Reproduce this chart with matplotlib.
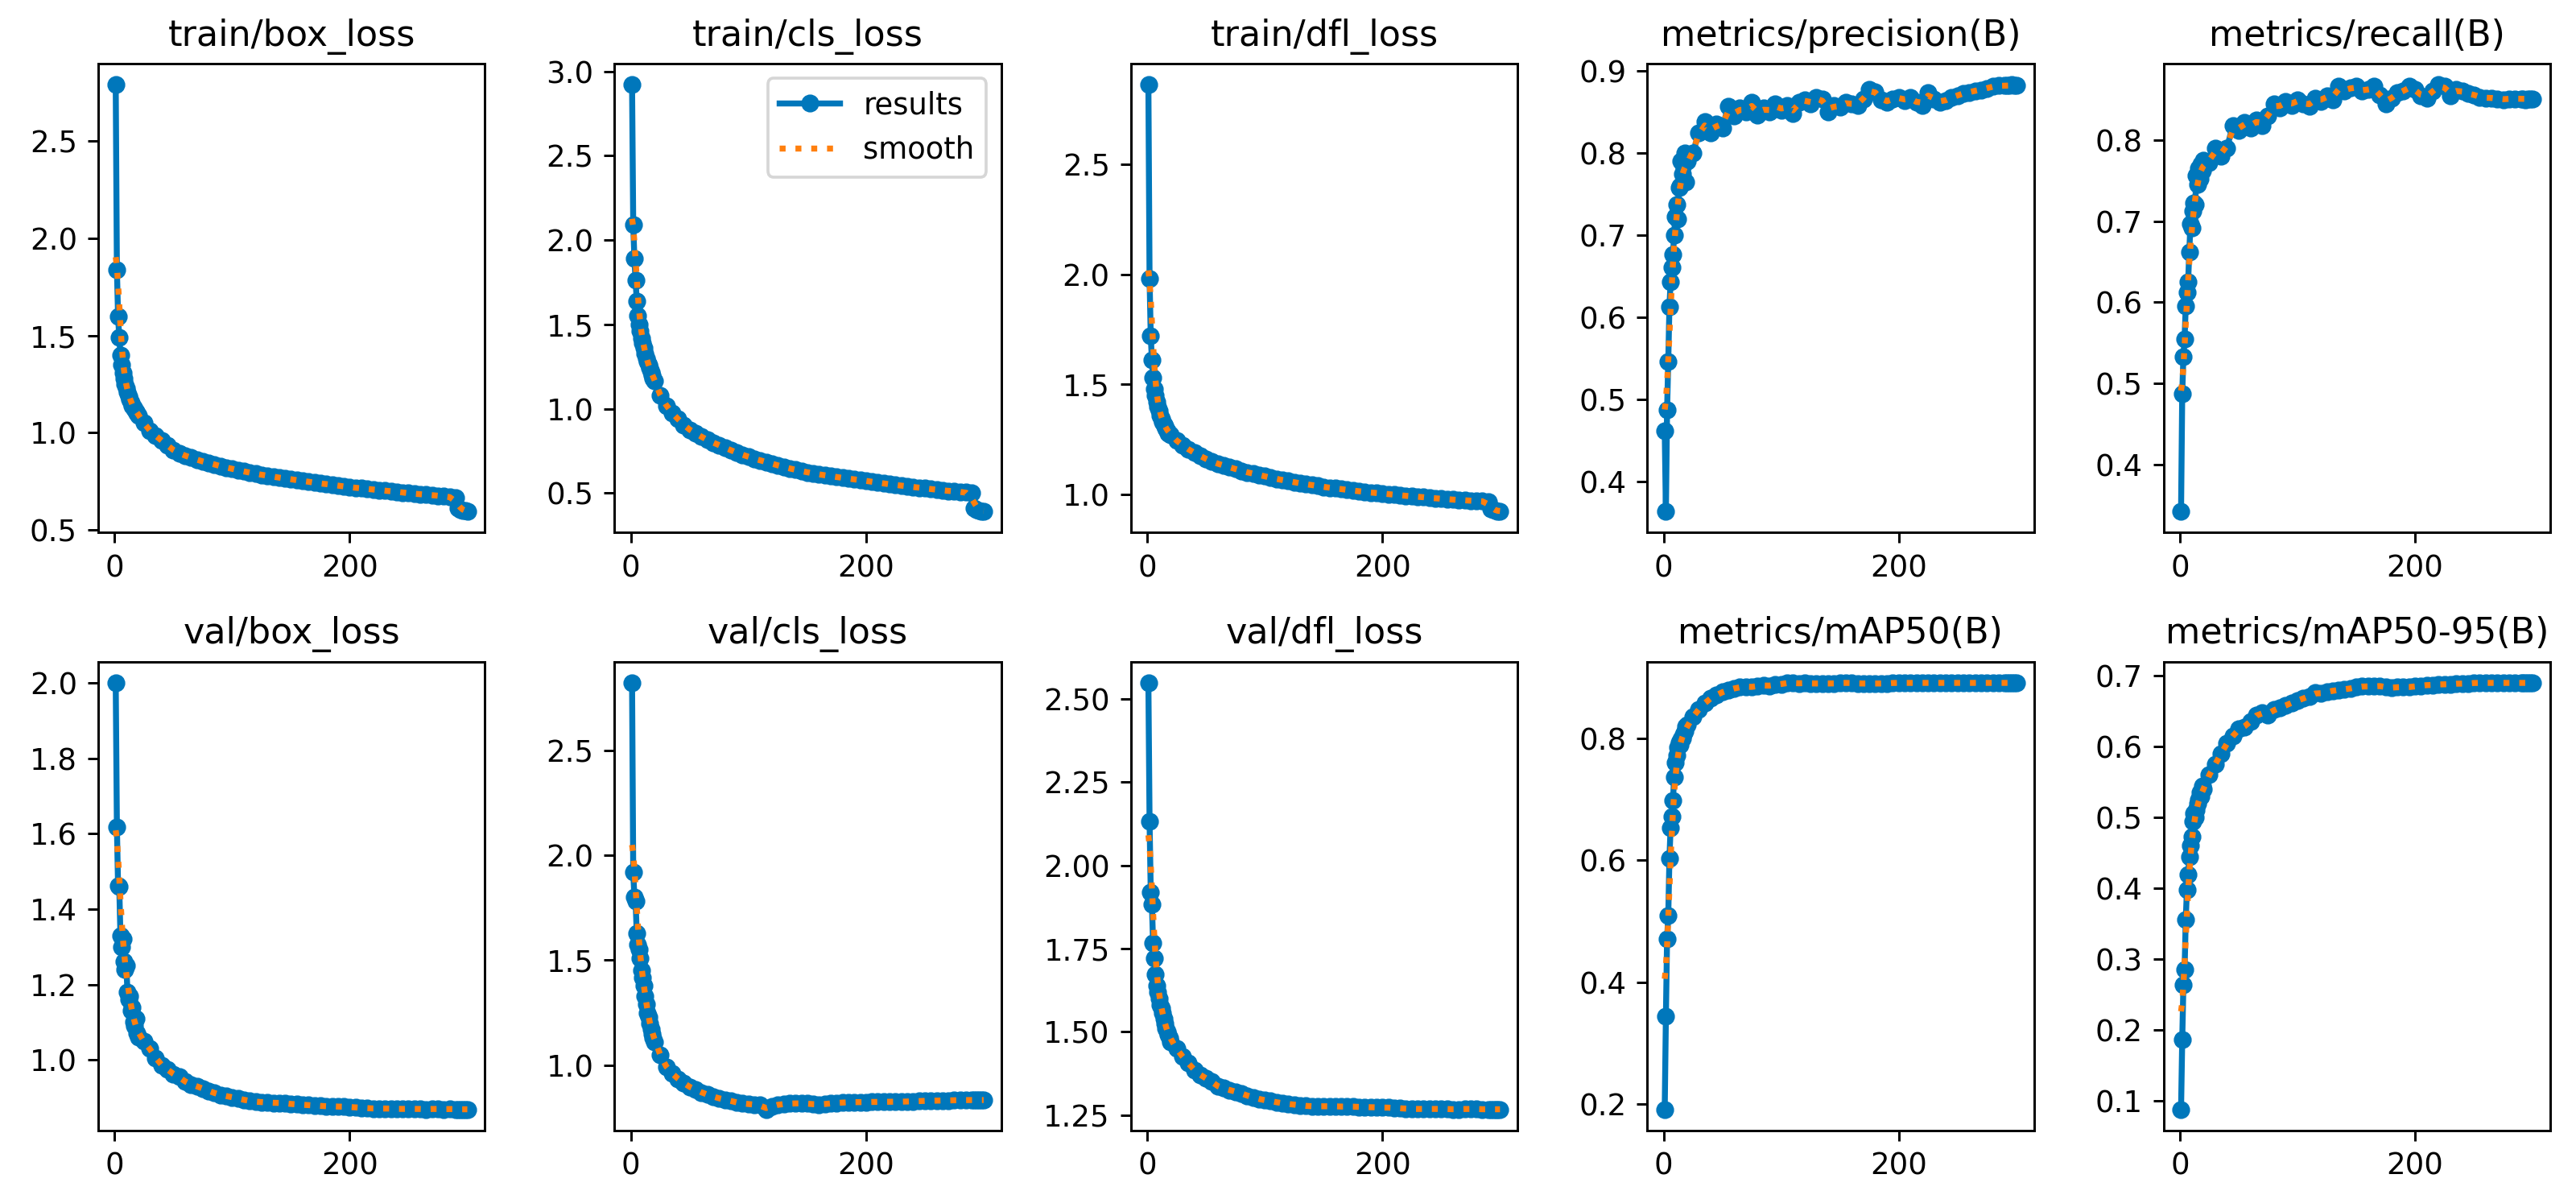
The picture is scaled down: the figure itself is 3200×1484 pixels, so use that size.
import numpy as np
import matplotlib
matplotlib.use("Agg")
import matplotlib.pyplot as plt

# Epochs sampled from the training log (1..20 each, then every 5, then last epochs)
EPOCHS = list(range(1, 21)) + list(range(25, 291, 5)) + [292, 294, 296, 298, 300]

TITLES = ["train/box_loss", "train/cls_loss", "train/dfl_loss",
          "metrics/precision(B)", "metrics/recall(B)",
          "val/box_loss", "val/cls_loss", "val/dfl_loss",
          "metrics/mAP50(B)", "metrics/mAP50-95(B)"]

train_box = [2.79, 1.84, 1.60, 1.49, 1.40, 1.35, 1.31, 1.28, 1.25, 1.23,
             1.21, 1.19, 1.17, 1.155, 1.14, 1.13, 1.12, 1.11, 1.10, 1.09,
             1.05, 1.01, 0.985, 0.96, 0.935, 0.91, 0.895, 0.882, 0.872, 0.862,
             0.852, 0.845, 0.837, 0.828, 0.821, 0.815, 0.807, 0.801, 0.795, 0.789,
             0.784, 0.779, 0.774, 0.769, 0.765, 0.761, 0.756, 0.752, 0.748, 0.743,
             0.739, 0.736, 0.732, 0.728, 0.724, 0.720, 0.717, 0.714, 0.711, 0.708,
             0.705, 0.702, 0.699, 0.696, 0.693, 0.689, 0.686, 0.684, 0.681, 0.679,
             0.676, 0.673, 0.670, 0.667,
             0.612, 0.605, 0.601, 0.598, 0.596]

train_cls = [2.92, 2.09, 1.89, 1.76, 1.64, 1.55, 1.50, 1.46, 1.42, 1.39,
             1.36, 1.33, 1.30, 1.28, 1.26, 1.24, 1.22, 1.20, 1.18, 1.165,
             1.08, 1.02, 0.975, 0.94, 0.905, 0.875, 0.855, 0.835, 0.815, 0.80,
             0.785, 0.77, 0.755, 0.74, 0.728, 0.716, 0.705, 0.695, 0.685, 0.675,
             0.665, 0.656, 0.647, 0.639, 0.631, 0.624, 0.618, 0.612, 0.606, 0.601,
             0.596, 0.591, 0.587, 0.582, 0.578, 0.573, 0.568, 0.563, 0.558, 0.553,
             0.549, 0.545, 0.541, 0.537, 0.533, 0.529, 0.525, 0.521, 0.517, 0.514,
             0.511, 0.508, 0.505, 0.502,
             0.41, 0.402, 0.398, 0.395, 0.393]

train_dfl = [2.86, 1.98, 1.72, 1.61, 1.53, 1.48, 1.45, 1.42, 1.40, 1.38,
             1.36, 1.345, 1.33, 1.32, 1.31, 1.30, 1.29, 1.28, 1.275, 1.27,
             1.245, 1.225, 1.205, 1.19, 1.175, 1.162, 1.15, 1.14, 1.132, 1.124,
             1.116, 1.108, 1.101, 1.095, 1.089, 1.083, 1.076, 1.071, 1.066, 1.061,
             1.056, 1.051, 1.047, 1.043, 1.039, 1.035, 1.031, 1.028, 1.025, 1.021,
             1.018, 1.015, 1.012, 1.009, 1.007, 1.005, 1.002, 0.999, 0.997, 0.994,
             0.992, 0.99, 0.988, 0.985, 0.983, 0.981, 0.979, 0.977, 0.975, 0.974,
             0.972, 0.971, 0.970, 0.968,
             0.935, 0.93, 0.927, 0.925, 0.924]

precision = [0.462, 0.364, 0.487, 0.546, 0.613, 0.643, 0.661, 0.677, 0.70, 0.723,
             0.737, 0.72, 0.758, 0.76, 0.79, 0.775, 0.785, 0.80, 0.765, 0.79,
             0.80, 0.825, 0.838, 0.825, 0.835, 0.83, 0.857, 0.845, 0.855, 0.85,
             0.862, 0.846, 0.855, 0.85, 0.86, 0.852, 0.858, 0.848, 0.862, 0.865,
             0.86, 0.868, 0.866, 0.85, 0.858, 0.856, 0.862, 0.86, 0.858, 0.866,
             0.878, 0.875, 0.865, 0.862, 0.866, 0.868, 0.864, 0.868, 0.862, 0.858,
             0.874, 0.866, 0.862, 0.864, 0.868, 0.87, 0.873, 0.874, 0.876, 0.877,
             0.879, 0.881, 0.882, 0.882,
             0.882, 0.882, 0.883, 0.882, 0.882]

recall = [0.342, 0.487, 0.533, 0.555, 0.595, 0.612, 0.625, 0.662, 0.697, 0.692,
          0.712, 0.722, 0.72, 0.756, 0.745, 0.765, 0.752, 0.77, 0.762, 0.775,
          0.772, 0.79, 0.78, 0.79, 0.818, 0.812, 0.822, 0.815, 0.825, 0.818,
          0.83, 0.845, 0.84, 0.848, 0.843, 0.85, 0.845, 0.842, 0.852, 0.848,
          0.855, 0.85, 0.866, 0.86, 0.864, 0.866, 0.86, 0.862, 0.866, 0.856,
          0.845, 0.852, 0.858, 0.86, 0.866, 0.862, 0.855, 0.852, 0.86, 0.868,
          0.866, 0.855, 0.862, 0.86, 0.857, 0.856, 0.853, 0.852, 0.852, 0.851,
          0.85, 0.851, 0.851, 0.851,
          0.851, 0.85, 0.851, 0.851, 0.851]

val_box = [2.00, 1.618, 1.461, 1.46, 1.33, 1.30, 1.32, 1.26, 1.24, 1.25,
           1.18, 1.16, 1.17, 1.13, 1.14, 1.10, 1.09, 1.11, 1.07, 1.06,
           1.05, 1.03, 1.005, 0.985, 0.975, 0.962, 0.955, 0.942, 0.935, 0.93,
           0.924, 0.918, 0.912, 0.907, 0.904, 0.901, 0.898, 0.894, 0.891, 0.889,
           0.888, 0.887, 0.886, 0.886, 0.885, 0.883, 0.882, 0.881, 0.88, 0.879,
           0.878, 0.877, 0.877, 0.876, 0.876, 0.875, 0.874, 0.873, 0.872, 0.871,
           0.871, 0.871, 0.871, 0.870, 0.870, 0.870, 0.870, 0.870, 0.869, 0.870,
           0.870, 0.869, 0.870, 0.869,
           0.869, 0.869, 0.869, 0.869, 0.869]

val_cls = [2.82, 1.918, 1.80, 1.78, 1.627, 1.573, 1.55, 1.51, 1.45, 1.418,
           1.38, 1.327, 1.29, 1.25, 1.23, 1.20, 1.17, 1.15, 1.13, 1.11,
           1.05, 0.99, 0.96, 0.935, 0.915, 0.895, 0.885, 0.87, 0.86, 0.85,
           0.842, 0.836, 0.83, 0.822, 0.818, 0.815, 0.812, 0.81, 0.79, 0.805,
           0.812, 0.815, 0.817, 0.818, 0.818, 0.817, 0.814, 0.813, 0.815, 0.818,
           0.82, 0.822, 0.823, 0.824, 0.824, 0.824, 0.825, 0.825, 0.825, 0.826,
           0.826, 0.826, 0.827, 0.828, 0.829, 0.83, 0.831, 0.831, 0.832, 0.832,
           0.833, 0.833, 0.834, 0.834,
           0.834, 0.834, 0.834, 0.834, 0.834]

val_dfl = [2.548, 2.132, 1.92, 1.882, 1.767, 1.721, 1.673, 1.638, 1.62, 1.60,
           1.58, 1.57, 1.555, 1.54, 1.525, 1.51, 1.50, 1.49, 1.48, 1.47,
           1.45, 1.425, 1.405, 1.385, 1.37, 1.36, 1.35, 1.335, 1.33, 1.325,
           1.32, 1.315, 1.308, 1.303, 1.298, 1.294, 1.292, 1.288, 1.285, 1.283,
           1.281, 1.279, 1.277, 1.276, 1.276, 1.276, 1.276, 1.276, 1.275, 1.275,
           1.275, 1.274, 1.274, 1.273, 1.273, 1.272, 1.272, 1.271, 1.27, 1.269,
           1.268, 1.268, 1.268, 1.268, 1.268, 1.268, 1.268, 1.267, 1.267, 1.268,
           1.268, 1.268, 1.267, 1.267,
           1.267, 1.267, 1.267, 1.267, 1.267]

map50 = [0.192, 0.344, 0.471, 0.509, 0.603, 0.654, 0.672, 0.698, 0.736, 0.76,
         0.772, 0.785, 0.794, 0.79, 0.798, 0.80, 0.806, 0.812, 0.82, 0.823,
         0.835, 0.848, 0.858, 0.866, 0.871, 0.876, 0.879, 0.882, 0.884, 0.885,
         0.884, 0.886, 0.887, 0.886, 0.888, 0.889, 0.891, 0.891, 0.89, 0.891,
         0.89, 0.89, 0.89, 0.89, 0.89, 0.891, 0.891, 0.891, 0.89, 0.89,
         0.89, 0.89, 0.89, 0.89, 0.891, 0.891, 0.891, 0.891, 0.891, 0.891,
         0.891, 0.891, 0.891, 0.891, 0.891, 0.891, 0.891, 0.891, 0.891, 0.891,
         0.891, 0.891, 0.891, 0.891,
         0.891, 0.891, 0.891, 0.891, 0.891]

map50_95 = [0.088, 0.186, 0.264, 0.285, 0.356, 0.398, 0.42, 0.444, 0.46, 0.473,
            0.495, 0.506, 0.50, 0.51, 0.52, 0.525, 0.535, 0.53, 0.545, 0.54,
            0.56, 0.575, 0.59, 0.605, 0.615, 0.625, 0.628, 0.635, 0.645, 0.648,
            0.645, 0.652, 0.655, 0.658, 0.662, 0.665, 0.668, 0.671, 0.676, 0.675,
            0.677, 0.679, 0.68, 0.681, 0.682, 0.684, 0.685, 0.685, 0.685, 0.686,
            0.684, 0.683, 0.684, 0.684, 0.684, 0.685, 0.686, 0.687, 0.687, 0.688,
            0.688, 0.688, 0.689, 0.689, 0.689, 0.69, 0.69, 0.69, 0.69, 0.69,
            0.69, 0.69, 0.69, 0.69,
            0.69, 0.69, 0.69, 0.69, 0.69]

SERIES = [train_box, train_cls, train_dfl, precision, recall,
          val_box, val_cls, val_dfl, map50, map50_95]

BLUE = "#0077bb"
ORANGE = "#ff7f0e"


def smooth(x, y, sigma=3.0):
    """Gaussian smoothing (reflect at edges), weighted by sample spacing."""
    x = np.asarray(x, float)
    y = np.asarray(y, float)
    dx = np.gradient(x)
    xs = np.concatenate([2 * x[0] - 1 - x, x, 2 * x[-1] + 1 - x])
    ys = np.tile(y, 3)
    ws = np.tile(dx, 3)
    out = np.empty_like(y)
    for i, xi in enumerate(x):
        w = np.exp(-0.5 * ((xs - xi) / sigma) ** 2) * ws
        out[i] = (w * ys).sum() / w.sum()
    return out


DPI = 800 / 3
fig, axes = plt.subplots(2, 5, figsize=(12, 5.565), dpi=DPI)
fig.subplots_adjust(left=0.0381, right=0.990, bottom=0.0539, top=0.9468,
                    wspace=0.335, hspace=0.275)

for ax, title, y in zip(axes.ravel(), TITLES, SERIES):
    assert len(y) == len(EPOCHS)
    ax.plot(EPOCHS, y, marker=".", label="results", linewidth=2, markersize=10,
            color=BLUE)
    ax.plot(EPOCHS, smooth(EPOCHS, y), ":", label="smooth", linewidth=2,
            color=ORANGE)
    ax.set_title(title, fontsize=12)
    ax.set_xticks([0, 200])

axes[0, 1].legend(loc="upper right")
fig.savefig("out.png", dpi=DPI, facecolor="white")
